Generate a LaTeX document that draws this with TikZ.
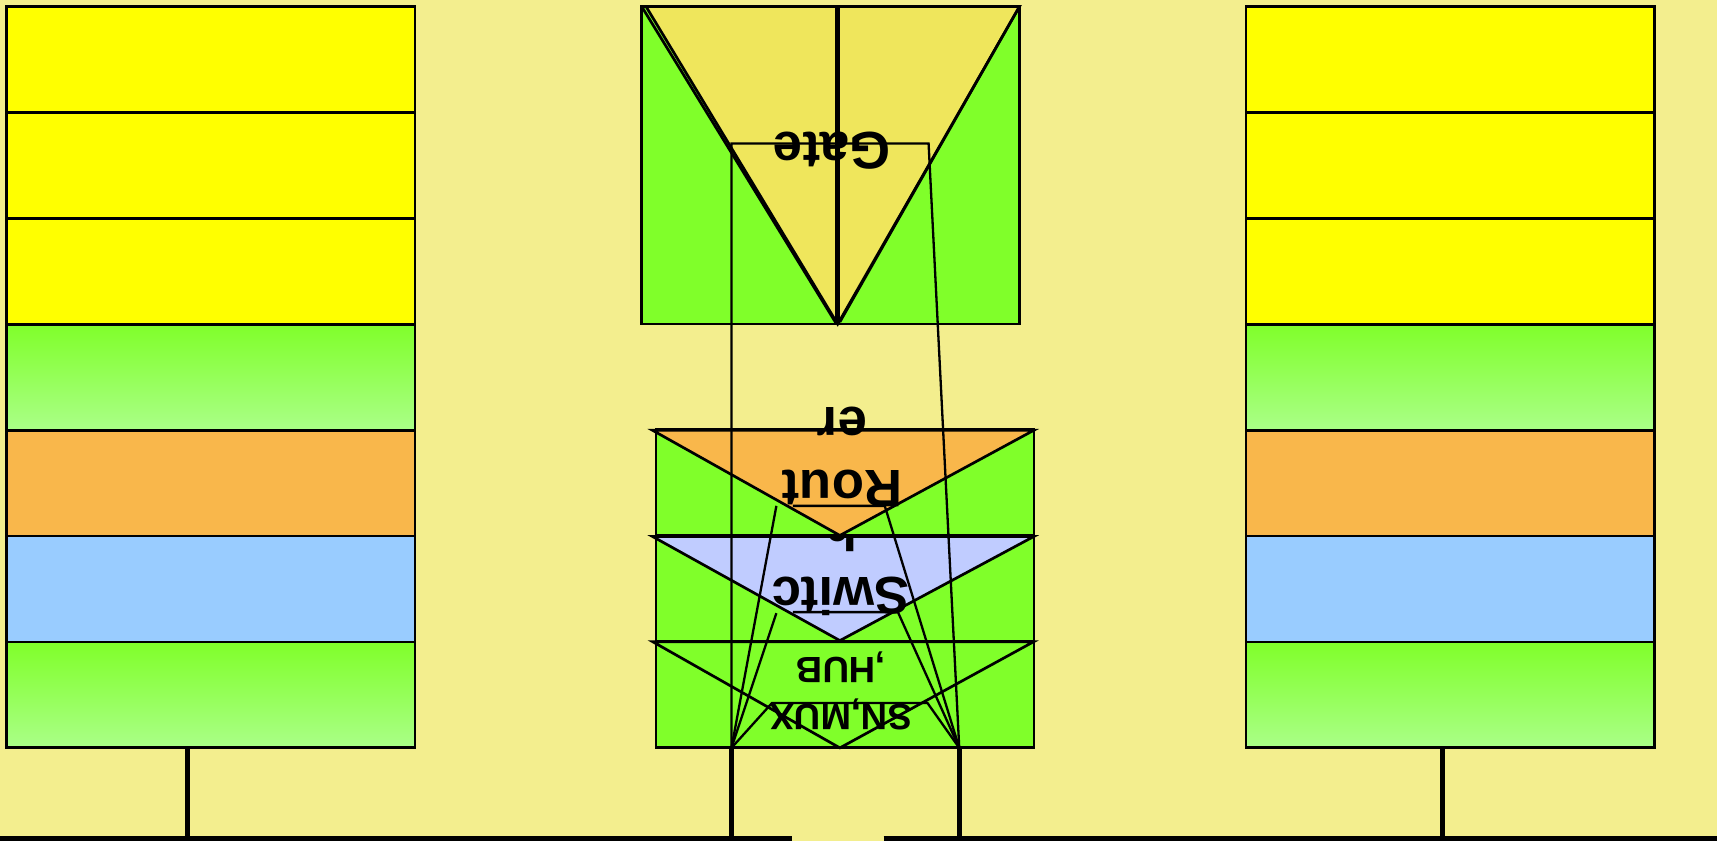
\documentclass[tikz,border=0pt]{standalone}
\usepackage{fontspec}
\setsansfont{Liberation Sans}
\usetikzlibrary{positioning,calc}
\definecolor{paperbg}{RGB}{243,238,142}
\definecolor{appyellow}{RGB}{255,255,0}
\definecolor{transgreen}{RGB}{128,255,42}
\definecolor{translight}{RGB}{170,255,136}
\definecolor{netorange}{RGB}{249,183,75}
\definecolor{linkblue}{RGB}{153,204,255}
\definecolor{swviolet}{RGB}{192,204,255}
\definecolor{gateyellow}{RGB}{239,230,92}

\begin{document}
\begin{tikzpicture}[
    x=0.1mm, y=-0.1mm,
    layer/.style={rectangle, draw, line width=0.7pt, minimum width=37.3mm, minimum height=9.67mm, inner sep=0pt, outer sep=0pt},
    upperlayer/.style={layer, fill=appyellow},
    greenlayer/.style={layer, top color=transgreen, bottom color=translight},
    netlayer/.style={layer, fill=netorange},
    linklayer/.style={layer, fill=linkblue},
    devrow/.style={rectangle, draw, line width=0.7pt, fill=transgreen, minimum width=34.5mm, minimum height=9.67mm, inner sep=0pt, outer sep=0pt},
    tri/.style={line width=0.7pt},
    devlabel/.style={rotate=180, inner sep=0pt, align=center, font=\sffamily\bfseries\fontsize{13.7}{16.5}\selectfont},
    smalllabel/.style={devlabel, font=\sffamily\bfseries\fontsize{9.5}{12}\selectfont},
    link/.style={line width=0.6pt},
    stem/.style={line width=1.3pt},
    bus/.style={line width=1.5pt}
]

% Background
\fill[paperbg] (0,0) rectangle (1568,768);
\useasboundingbox (0,0) rectangle (1568,768);

% Left layer stack
\node[upperlayer] (lapp) at (192.5,54.4) {};
\node[upperlayer, below=0pt of lapp] (lpres) {};
\node[upperlayer, below=0pt of lpres] (lsess) {};
\node[greenlayer, below=0pt of lsess] (ltrans) {};
\node[netlayer, below=0pt of ltrans] (lnet) {};
\node[linklayer, below=0pt of lnet] (llink) {};
\node[greenlayer, below=0pt of llink] (lphys) {};

% Right layer stack
\node[upperlayer] (rapp) at (1324.5,54.4) {};
\node[upperlayer, below=0pt of rapp] (rpres) {};
\node[upperlayer, below=0pt of rpres] (rsess) {};
\node[greenlayer, below=0pt of rsess] (rtrans) {};
\node[netlayer, below=0pt of rtrans] (rnet) {};
\node[linklayer, below=0pt of rnet] (rlink) {};
\node[greenlayer, below=0pt of rlink] (rphys) {};

% Gate
\node[devrow, minimum height=29mm] (gate) at (758.5,151) {};
\coordinate (gapex) at (765,296);
\fill[gateyellow] (590,6) -- (931,6) -- (gapex) -- cycle;
\node[devlabel] (gatetext) at (760,137.5) {Gate};
\draw[tri] (590,6) -- (931,6) -- (gapex) -- cycle;
\draw[tri] (gate.north west) -- (764,296);
\draw[tri] (gate.north east) -- (767,294);
\draw[line width=1.3pt] (gapex |- gate.north) -- (gapex);

% Hub row
\node[devrow] (hub) at (771.7,634.3) {};
\draw[tri] (596,586) -- (944,586) -- (767,683) -- cycle;
\node[smalllabel] (hubtext) at (768,631) {SN,MUX\\,HUB};

% Switch row
\node[devrow, above=0pt of hub] (switch) {};
\filldraw[tri, fill=swviolet] (596,490) -- (944,490) -- (767,585) -- cycle;
\node[devlabel] (switchtext) at (768,515.4) {Switc\\h};

% Router row
\node[devrow, above=0pt of switch] (router) {};
\filldraw[tri, fill=netorange] (596,393) -- (944,393) -- (767,489) -- cycle;
\node[devlabel] (routertext) at (769,417.4) {Rout\\er};

% Device links
\coordinate (tapA) at (668,683);
\coordinate (tapB) at (876,683);
\draw[link] (tapA) -- (668,131) -- (848,131) -- (tapB);
\draw[link] (tapA) -- (709,462);
\draw[link] (724,462) -- (808,462) -- (tapB);
\draw[link] (tapA) -- (709,560);
\draw[link] (724,559) -- (820,559) -- (tapB);
\draw[link] (tapA) -- (705,642) -- (847,642) -- (tapB);

% Bus
\coordinate (busW) at (0,766);
\coordinate (gapW) at (723,766);
\coordinate (gapE) at (807,766);
\coordinate (busE) at (1568,766);
\draw[bus] (busW) -- (gapW);
\draw[bus] (gapE) -- (busE);

% Stems
\coordinate (ltap) at (171,766);
\coordinate (rtap) at (1317,766);
\draw[stem] (ltap |- lphys.south) -- (ltap);
\draw[stem] (rtap |- rphys.south) -- (rtap);
\draw[stem] (tapA) -- (tapA |- busW);
\draw[stem] (tapB) -- (tapB |- busE);

\end{tikzpicture}
\end{document}
